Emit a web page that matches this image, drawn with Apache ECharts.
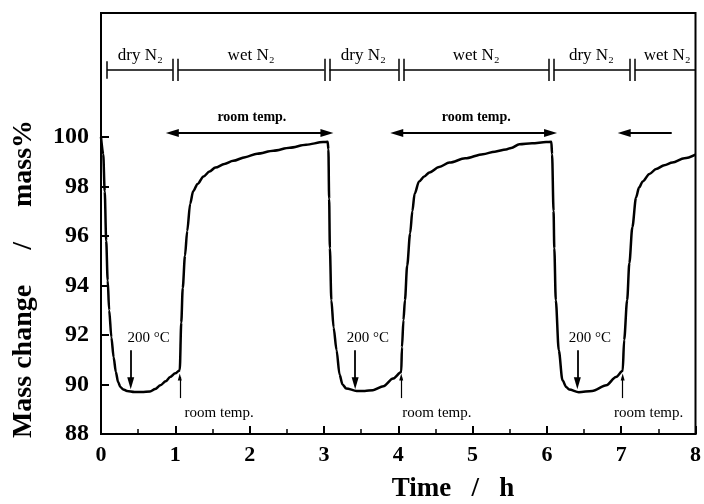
<!DOCTYPE html>
<html>
<head>
<meta charset="utf-8">
<script src="https://cdn.jsdelivr.net/npm/echarts@6/dist/echarts.min.js"></script>
<style>
  html, body { margin: 0; padding: 0; background: #fff; }
  #chart { width: 704px; height: 504px; }
</style>
</head>
<body>
<div id="chart"></div>
<script>
// mass change curve (time in h, mass in %)
const time = [
  0, 0.03, 0.05, 0.07, 0.09, 0.11, 0.14, 0.17, 0.20, 0.23, 0.26, 0.30, 0.35, 0.45, 0.55, 0.66, 0.73, 0.80, 0.87, 0.93, 1.00, 1.05,
  1.06, 1.08, 1.10, 1.13, 1.16, 1.20, 1.24, 1.30, 1.38, 1.46, 1.54, 1.66, 1.78, 1.94, 2.10, 2.32, 2.54, 2.76, 2.99, 3.05,
  3.06, 3.07, 3.08, 3.10, 3.13, 3.17, 3.21, 3.25, 3.30, 3.44, 3.55, 3.66, 3.80, 3.93, 4.04,
  4.05, 4.07, 4.09, 4.12, 4.16, 4.19, 4.22, 4.28, 4.35, 4.42, 4.55, 4.69, 4.90, 5.14, 5.30, 5.45, 5.52, 5.63, 5.80, 5.99, 6.06,
  6.07, 6.09, 6.10, 6.12, 6.16, 6.21, 6.26, 6.30, 6.43, 6.61, 6.80, 6.93, 7.02,
  7.04, 7.08, 7.11, 7.15, 7.20, 7.24, 7.29, 7.38, 7.47, 7.58, 7.69, 7.85, 8.00
]
const mass = [
  100, 99.3, 97.8, 95.8, 94.2, 93.0, 91.9, 91.1, 90.5, 90.1, 89.9, 89.8, 89.74, 89.7, 89.7, 89.72, 89.82, 89.97, 90.13, 90.3, 90.45, 90.55,
  90.6, 92.5, 93.9, 95.2, 96.2, 97.3, 97.8, 98.1, 98.4, 98.6, 98.76, 98.9, 99.03, 99.18, 99.32, 99.44, 99.56, 99.68, 99.79, 99.8,
  99.5, 97.5, 95.5, 93.4, 92.3, 91.38, 90.4, 90.0, 89.84, 89.74, 89.74, 89.77, 89.93, 90.24, 90.5,
  91.5, 92.6, 93.4, 94.8, 96.1, 97.0, 97.7, 98.2, 98.4, 98.56, 98.78, 98.96, 99.13, 99.3, 99.4, 99.49, 99.55, 99.7, 99.74, 99.79, 99.8,
  99.3, 97.0, 95.5, 93.4, 91.38, 90.17, 89.9, 89.8, 89.69, 89.74, 89.97, 90.3, 90.55,
  91.8, 93.4, 94.9, 96.35, 97.55, 97.95, 98.2, 98.5, 98.7, 98.85, 98.96, 99.13, 99.28
]

const xTicks = [0, 1, 2, 3, 4, 5, 6, 7, 8]
const yTicks = [88, 90, 92, 94, 96, 98, 100]

// gas atmosphere band at the top
const gasLabels = ['dry N₂', 'wet N₂', 'dry N₂', 'wet N₂', 'dry N₂', 'wet N₂']
const gasLabelTime = [0.53, 2.02, 3.53, 5.05, 6.6, 7.62]
const gasSwitch = [1.0, 3.04, 4.04, 6.06, 7.15]
const bandStart = 0.08
const bandEnd = 8
const bandLevel = 102.7
const bandLabelLevel = 103.3

// "room temp." double arrows above the curve
const rtArrowFrom = [0.96, 3.98, 7.04]
const rtArrowTo = [3.04, 6.05, 7.68]
const rtArrowLevel = 100.15
const rtTopLabelTime = [2.03, 5.05]
const rtTopLabelLevel = 100.78

// "200 °C" markers
const hotArrowTime = [0.4, 3.42, 6.41]
const hotLabelTime = [0.64, 3.59, 6.58]
const hotLabelLevel = 91.86

// "room temp." markers at the bottom
const coolArrowTime = [1.06, 4.04, 7.02]
const coolLabelTime = [1.59, 4.52, 7.37]
const coolLabelLevel = 88.85

const curve = time.map((t, i) => [t, mass[i]])

// band segments between the || switch marks
const half = 0.034
const bandEdges = [bandStart]
gasSwitch.forEach((s) => { bandEdges.push(s - half, s + half) })
bandEdges.push(bandEnd)
const bandLines = []
for (let i = 0; i < bandEdges.length; i += 2) {
  bandLines.push([{ coord: [bandEdges[i], bandLevel] }, { coord: [bandEdges[i + 1], bandLevel] }])
}
bandLines.push([{ coord: [bandStart, bandLevel - 0.35] }, { coord: [bandStart, bandLevel + 0.35] }])
gasSwitch.forEach((s) => {
  bandLines.push([{ coord: [s - half, bandLevel - 0.45] }, { coord: [s - half, bandLevel + 0.45] }])
  bandLines.push([{ coord: [s + half, bandLevel - 0.45] }, { coord: [s + half, bandLevel + 0.45] }])
})

const arrowHead = { symbol: 'triangle', symbolSize: [8, 13] }
const rtArrows = rtArrowFrom.map((a, i) => {
  const toRight = i < 2
  return [
    Object.assign({ coord: [a, rtArrowLevel] }, arrowHead),
    Object.assign({ coord: [rtArrowTo[i], rtArrowLevel] }, toRight ? arrowHead : { symbol: 'none' })
  ]
})
const hotArrows = hotArrowTime.map((t) => [
  { coord: [t, 91.38], symbol: 'none' },
  { coord: [t, 90.05], symbol: 'triangle', symbolSize: [7, 12] }
])
const coolArrows = coolArrowTime.map((t) => [
  { coord: [t, 89.45], symbol: 'none' },
  { coord: [t, 90.3], symbol: 'triangle', symbolSize: [4, 7] }
])

function textSeries(times, level, labels, style) {
  return {
    type: 'scatter',
    symbolSize: 0,
    silent: true,
    itemStyle: { opacity: 1 },
    data: times.map((t, i) => ({ value: [t, level], name: labels[i] })),
    label: Object.assign({
      show: true,
      position: 'inside',
      formatter: (p) => p.name,
      color: '#000',
      opacity: 1,
      fontFamily: 'Liberation Serif'
    }, style)
  }
}

function lineSeries(data, width) {
  return {
    type: 'line',
    data: [],
    silent: true,
    markLine: {
      silent: true,
      animation: false,
      symbol: 'none',
      label: { show: false },
      lineStyle: { color: '#000', width: width, type: 'solid', opacity: 1 },
      emphasis: { disabled: true },
      data: data
    }
  }
}

const titleStyle = {
  fontFamily: 'Liberation Serif',
  fontWeight: 'bold',
  fill: '#000',
  textAlign: 'center',
  textVerticalAlign: 'middle'
}

const chart = echarts.init(document.getElementById('chart'))

const option = {
  animation: false,
  grid: {
    left: 101,
    right: 7,
    top: 13,
    bottom: 70,
    show: true,
    borderColor: '#000',
    borderWidth: 2
  },
  xAxis: {
    type: 'value',
    min: 0,
    max: 8,
    interval: 1,
    axisLine: { lineStyle: { color: '#000', width: 2 } },
    axisTick: { inside: true, length: 8, lineStyle: { color: '#000', width: 2 } },
    minorTick: { show: true, splitNumber: 2, length: 5, lineStyle: { color: '#000', width: 1.5 } },
    splitLine: { show: false },
    axisLabel: {
      customValues: xTicks,
      color: '#000',
      fontFamily: 'Liberation Serif',
      fontWeight: 'bold',
      fontSize: 22,
      margin: 10
    }
  },
  yAxis: {
    type: 'value',
    min: 88,
    max: 105,
    interval: 2,
    axisLine: { lineStyle: { color: '#000', width: 2 } },
    axisTick: { inside: true, length: 8, customValues: yTicks, lineStyle: { color: '#000', width: 2 } },
    splitLine: { show: false },
    axisLabel: {
      customValues: yTicks,
      color: '#000',
      fontFamily: 'Liberation Serif',
      fontWeight: 'bold',
      fontSize: 24,
      margin: 12
    }
  },
  graphic: [
    {
      type: 'text',
      x: 24,
      y: 279,
      rotation: Math.PI / 2,
      style: Object.assign({ text: 'Mass change     /     mass%', fontSize: 28 }, titleStyle)
    },
    {
      type: 'text',
      x: 453,
      y: 489,
      style: Object.assign({ text: 'Time   /   h', fontSize: 27 }, titleStyle)
    }
  ],
  series: [
    {
      type: 'line',
      data: curve,
      symbol: 'none',
      smooth: 0.3,
      smoothMonotone: 'x',
      lineStyle: { color: '#000', width: 2.5 },
      z: 5
    },
    lineSeries(bandLines, 1.5),
    lineSeries(rtArrows, 2),
    lineSeries(hotArrows, 1.8),
    lineSeries(coolArrows, 1.2),
    textSeries(gasLabelTime, bandLabelLevel, gasLabels, { fontSize: 17 }),
    textSeries(rtTopLabelTime, rtTopLabelLevel, ['room temp.', 'room temp.'], { fontSize: 14, fontWeight: 'bold' }),
    textSeries(hotLabelTime, hotLabelLevel, ['200 °C', '200 °C', '200 °C'], { fontSize: 15 }),
    textSeries(coolLabelTime, coolLabelLevel, ['room temp.', 'room temp.', 'room temp.'], { fontSize: 15 })
  ]
}

chart.setOption(option)
</script>
</body>
</html>
